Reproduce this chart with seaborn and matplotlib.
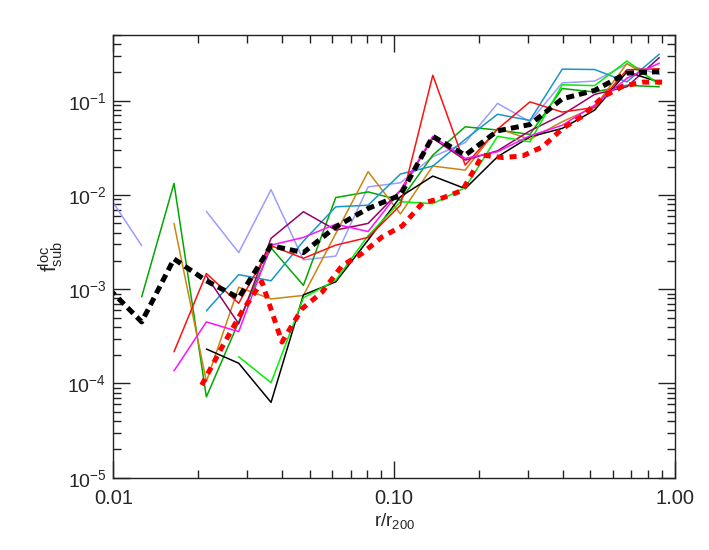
import numpy as np
import pandas as pd
import matplotlib
matplotlib.use("Agg")
import matplotlib.pyplot as plt
import matplotlib.ticker as mticker
import seaborn as sns

# radial bins (r/r200) shared by the thin curves and the black dashed mean
r_bins = [0.00968, 0.01262, 0.01645, 0.02145, 0.02796, 0.03645, 0.04753, 0.06196, 0.08078,
          0.1053, 0.1373, 0.1791, 0.2335, 0.3044, 0.3968, 0.5173, 0.6745, 0.8794]

# the red dashed curve uses a finer binning
r_bins_fine = [0.02064, 0.02433, 0.02868, 0.03381, 0.03986, 0.04698, 0.05536, 0.06526,
               0.07691, 0.09066, 0.1069, 0.1260, 0.1485, 0.1750, 0.2063, 0.2431, 0.2866,
               0.3378, 0.3982, 0.4693, 0.5533, 0.6522, 0.7687, 0.9060]

nan = np.nan
f_lavender = [9.6e-3, 2.9e-3, nan, 6.7e-3, 2.45e-3, 1.14e-2, 2.05e-3, 2.25e-3, 1.22e-2,
              1.35e-2, 2.55e-2, 3.6e-2, 9.4e-2, 6.0e-2, 0.155, 0.162, 0.245, 0.19]
f_green = [nan, 8.3e-4, 1.33e-2, 7.2e-5, 4.5e-4, 2.75e-3, 1.1e-3, 9.4e-3, 1.08e-2,
           8.8e-3, 2.65e-2, 5.3e-2, 4.9e-2, 4.4e-2, 0.135, 0.124, 0.146, 0.141]
f_orange = [nan, nan, 5.0e-3, 1.05e-4, 1.05e-3, 7.9e-4, 8.6e-4, 3.9e-3, 1.77e-2,
            6.3e-3, 2.03e-2, 1.84e-2, 5.1e-2, 3.9e-2, 6.0e-2, 8.6e-2, 0.249, 0.153]
f_red = [nan, nan, 2.17e-4, 1.47e-3, 7.1e-4, 2.9e-3, 2.13e-3, 2.94e-3, 3.55e-3,
         7.8e-3, 0.187, 2.08e-2, 5.0e-2, 9.75e-2, 7.6e-2, 8.5e-2, 0.214, 0.219]
f_magenta = [nan, nan, 1.36e-4, 4.5e-4, 3.55e-4, 2.94e-3, 3.55e-3, 4.9e-3, 4.1e-3,
             1.12e-2, 4.2e-2, 2.45e-2, 2.88e-2, 4.25e-2, 5.5e-2, 9.0e-2, 0.174, 0.251]
f_purple = [nan, nan, nan, 1.38e-3, 4.3e-4, 3.47e-3, 6.65e-3, 4.25e-3, 5.0e-3,
            1.12e-2, 4.0e-2, 2.35e-2, 2.95e-2, 4.8e-2, 7.1e-2, 0.117, 0.141, 0.288]
f_cyan = [nan, nan, nan, 5.9e-4, 1.43e-3, 1.23e-3, 3.24e-3, 7.5e-3, 7.8e-3,
          1.67e-2, 2.03e-2, 3.9e-2, 7.2e-2, 6.2e-2, 0.217, 0.215, 0.159, 0.313]
f_lime = [nan, nan, nan, nan, 1.92e-4, 1.02e-4, 8.1e-4, 1.25e-3, 3.7e-3,
          8.5e-3, 8.1e-3, 1.2e-2, 4.2e-2, 3.67e-2, 0.148, 0.145, 0.265, 0.148]
f_black = [nan, nan, nan, 2.32e-4, 1.64e-4, 6.3e-5, 8.7e-4, 1.2e-3, 3.33e-3,
           9.6e-3, 1.59e-2, 1.17e-2, 2.55e-2, 4.15e-2, 5.1e-2, 7.96e-2, 0.203, 0.158]

f_mean = [1.0e-3, 4.5e-4, 2.1e-3, 1.23e-3, 8.1e-4, 2.9e-3, 2.45e-3, 4.6e-3, 7.2e-3,
          1.0e-2, 4.2e-2, 2.65e-2, 4.8e-2, 5.6e-2, 0.105, 0.129, 0.197, 0.204]
f_red_dashed = [9.6e-5, 2.4e-4, 5.75e-4, 1.2e-3, 2.75e-4, 6.2e-4, 9.3e-4, 1.78e-3,
                2.4e-3, 3.6e-3, 4.7e-3, 8.2e-3, 9.3e-3, 1.12e-2, 2.65e-2, 2.5e-2, 2.6e-2,
                3.25e-2, 5.1e-2, 6.9e-2, 0.11, 0.143, 0.158, 0.158]

thin_series = [
    (f_lavender, "#9c9cff"),
    (f_green, "#00a800"),
    (f_orange, "#cc8410"),
    (f_cyan, "#1597c8"),
    (f_purple, "#990066"),
    (f_black, "black"),
    (f_lime, "#00f000"),
    (f_red, "#ff1010"),
    (f_magenta, "#ff10ff"),
]

sns.set_style("ticks")
plt.rcParams["font.family"] = ["Liberation Sans", "DejaVu Sans"]
plt.rcParams["mathtext.fontset"] = "custom"
plt.rcParams["mathtext.rm"] = "Liberation Sans"
plt.rcParams["mathtext.it"] = "Liberation Sans"

fig = plt.figure(figsize=(7.09, 5.5), dpi=100)
ax = fig.add_axes([0.1598, 0.1315, 0.952 - 0.1598, 0.9364 - 0.1315])
ax.set_xscale("log")
ax.set_yscale("log")


def draw(x, y, color, lw, dash=None):
    df = pd.DataFrame({"r": x, "f": y})
    # split into runs without gaps so missing bins break the line
    seg = df["f"].isna().cumsum()
    df = df.assign(seg=seg).dropna()
    for _, part in df.groupby("seg"):
        if len(part) < 2:
            continue
        sns.lineplot(data=part, x="r", y="f", color=color, lw=lw, sort=False,
                     estimator=None, ax=ax)
        if dash is not None:
            ax.lines[-1].set_dashes(dash)
            ax.lines[-1].set_dash_capstyle("butt")


for vals, col in thin_series:
    draw(r_bins, vals, col, 1.1)

draw(r_bins_fine, f_red_dashed, "#ff0000", 3.6, dash=(1.4, 1.2))
draw(r_bins, f_mean, "black", 3.6, dash=(1.6, 1.0))

ax.set_xlim(0.01, 1.0)
ax.set_ylim(1e-5, 0.5)

ax.xaxis.set_major_locator(mticker.FixedLocator([0.01, 0.1, 1.0]))
ax.xaxis.set_major_formatter(mticker.FixedFormatter(["0.01", "0.10", "1.00"]))
ax.xaxis.set_minor_locator(mticker.LogLocator(base=10, subs=np.arange(2, 10)))
ax.xaxis.set_minor_formatter(mticker.NullFormatter())
ax.yaxis.set_major_locator(mticker.FixedLocator([1e-5, 1e-4, 1e-3, 1e-2, 1e-1]))
ax.yaxis.set_major_formatter(mticker.FixedFormatter(
    [r"$10^{-5}$", r"$10^{-4}$", r"$10^{-3}$", r"$10^{-2}$", r"$10^{-1}$"]))
ax.yaxis.set_minor_locator(mticker.LogLocator(base=10, subs=np.arange(2, 10)))
ax.yaxis.set_minor_formatter(mticker.NullFormatter())

ax.tick_params(which="both", direction="in", top=True, right=True, width=1.0, color="#222222")
ax.tick_params(which="major", length=12)
ax.tick_params(which="minor", length=5.5)
ax.tick_params(axis="x", which="major", labelsize=14.5, pad=8)
ax.tick_params(axis="y", which="major", labelsize=14, pad=5)
for s in ax.spines.values():
    s.set_linewidth(1.0)
    s.set_color("#222222")

ax.set_xlabel(r"r/r$_{200}$", fontsize=13.5, labelpad=2)
ax.set_ylabel(r"$\mathrm{f}^{\mathrm{loc}}_{\mathrm{sub}}$", fontsize=15, labelpad=2)

fig.savefig("out.png", dpi=100)
